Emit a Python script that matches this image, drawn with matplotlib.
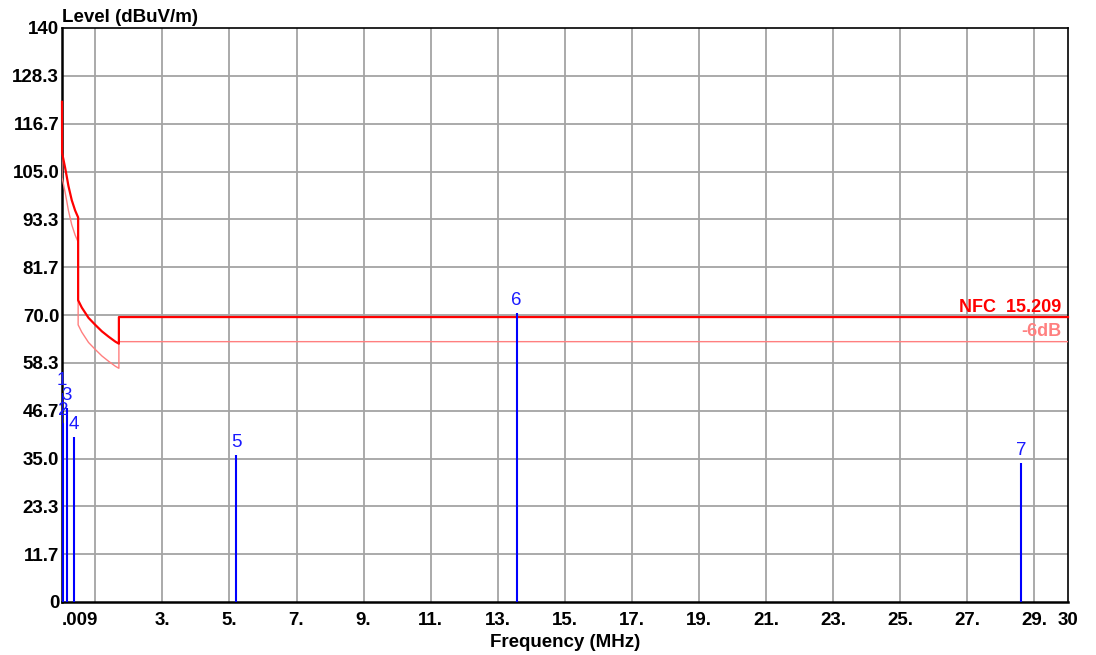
import matplotlib
matplotlib.use("Agg")
import matplotlib.pyplot as plt

# ---------------- data ----------------
limit_freq = [0.009, 0.012, 0.05, 0.1, 0.15, 0.2, 0.3, 0.4, 0.49, 0.49,
              0.6, 0.8, 1.0, 1.2, 1.4, 1.6, 1.705, 1.705, 30.0]
limit_level = [122.0, 109.5, 108.0, 106.0, 103.8, 101.5, 98.0, 95.5, 93.8, 73.6,
               71.8, 69.3, 67.6, 66.0, 64.7, 63.5, 63.0, 69.5, 69.5]
margin_db = 6.0

peak_freq = [0.010, 0.035, 0.157, 0.356, 5.197, 13.56, 28.60]
peak_level = [51.0, 43.7, 47.3, 40.2, 35.9, 70.5, 33.9]
peak_labels = ["1", "2", "3", "4", "5", "6", "7"]

y_ticks = [0, 11.7, 23.3, 35.0, 46.7, 58.3, 70.0, 81.7, 93.3, 105.0, 116.7, 128.3, 140]
y_tick_labels = ["0", "11.7", "23.3", "35.0", "46.7", "58.3", "70.0", "81.7",
                 "93.3", "105.0", "116.7", "128.3", "140"]
x_grid = [1, 3, 5, 7, 9, 11, 13, 15, 17, 19, 21, 23, 25, 27, 29]
x_ticks = [0.009, 3, 5, 7, 9, 11, 13, 15, 17, 19, 21, 23, 25, 27, 29, 30]
x_tick_labels = [".009", "3.", "5.", "7.", "9.", "11.", "13.", "15.", "17.", "19.",
                 "21.", "23.", "25.", "27.", "29.", "30"]

# ---------------- figure ----------------
plt.rcParams['font.family'] = ['Liberation Sans', 'DejaVu Sans']
fig = plt.figure(figsize=(10.96, 6.55), dpi=100)
ax = fig.add_axes([62 / 1096, 1 - 602 / 655, (1068 - 62) / 1096, (602 - 28) / 655])

ax.set_xlim(0.009, 30)
ax.set_ylim(0, 140)

# grid
for gx in x_grid:
    ax.axvline(gx, color="#a4a4a4", lw=1.3, zorder=0)
for gy in y_ticks[1:-1]:
    ax.axhline(gy, color="#a4a4a4", lw=1.3, zorder=0)

for s in ["left", "bottom"]:
    ax.spines[s].set_linewidth(1.8)
for s in ["top", "right"]:
    ax.spines[s].set_linewidth(1.2)
for s in ax.spines.values():
    s.set_color("black")
    s.set_zorder(1)

# limit lines
ax.plot(limit_freq, limit_level, color="#ff0000", lw=1.6, zorder=3, clip_on=False)
ax.plot(limit_freq, [v - margin_db for v in limit_level], color="#ff7f7f", lw=1.0, zorder=2)

ax.annotate("NFC  15.209", xy=(30, limit_level[-1]), xytext=(-4.5, 3.8),
            textcoords="offset points", ha="right", va="baseline",
            color="#ff0000", fontsize=13, fontweight="bold")
ax.annotate("-6dB", xy=(30, limit_level[-1] - margin_db), xytext=(-4.5, 3.8),
            textcoords="offset points", ha="right", va="baseline",
            color="#ff8080", fontsize=13, fontweight="bold")

# peaks
ax.vlines(peak_freq, 0, peak_level, color="#0000ff", lw=1.5, zorder=4)
for f, lv, lab in zip(peak_freq, peak_level, peak_labels):
    ax.annotate(lab, xy=(f, lv), xytext=(0, 3), textcoords="offset points",
                ha="center", va="bottom", color="#1a1aff", fontsize=13.5,
                annotation_clip=False, clip_on=False, zorder=6)

# ticks
ax.set_yticks(y_ticks)
ax.set_yticklabels(y_tick_labels, fontsize=13.5, fontweight="bold")
ax.set_xticks(x_ticks)
xl = ax.set_xticklabels(x_tick_labels, fontsize=13.5, fontweight="bold")
xl[0].set_ha("left")
ax.tick_params(axis="both", length=0)
ax.tick_params(axis="x", pad=7)
ax.tick_params(axis="y", pad=2)

ax.set_xlabel("Frequency (MHz)", fontsize=13.5, fontweight="bold", labelpad=4)
fig.text(62 / 1096, 1 - 22 / 655, "Level (dBuV/m)", fontsize=13.5, fontweight="bold",
         ha="left", va="baseline")

fig.savefig("out.png", dpi=100)
